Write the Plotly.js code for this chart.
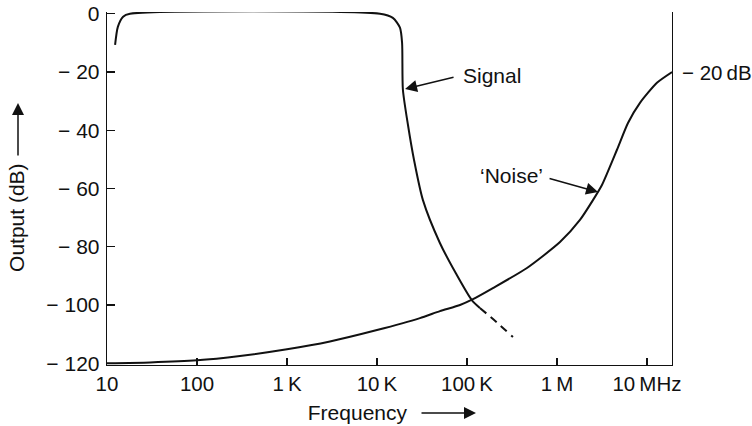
<!DOCTYPE html>
<html>
<head>
<meta charset="utf-8">
<script src="https://cdn.plot.ly/plotly-3.0.1.min.js"></script>
<style>html,body{margin:0;padding:0;background:#fff;}#chart{width:752px;height:426px;}</style>
</head>
<body>
<div id="chart"></div>
<script>
// Signal (solid part)
const signalFreq = [12.3, 13.2, 15.1, 18, 10800, 15000, 18000, 19000, 19400, 22100, 25800, 32400, 50000, 75500, 113000, 139000];
const signalDb   = [-10.7, -4.5, -1, 0, 0, -1.4, -4.8, -10, -26, -38.2, -50.2, -64, -78.7, -89.2, -98.3, -101];
// Signal extrapolation (dashed)
const signalExtFreq = [139000, 215000, 324000];
const signalExtDb   = [-101, -106, -111];
// Noise
const noiseFreq = [10, 30, 100, 300, 1000, 3000, 10000, 30000, 50000, 83600, 116600, 194000, 464000, 1080000, 1800000, 2510000, 3160000, 4640000, 6150000, 8360000, 12900000, 19000000];
const noiseDb   = [-120, -119.7, -119, -117.5, -115.2, -112.5, -108.6, -104.5, -102.1, -100, -98.0, -94.2, -87.3, -78.4, -70.8, -64, -58.8, -46.7, -37.5, -30.6, -23.7, -20];
// Ticks
const xTickVals = [10, 100, 1000, 10000, 100000, 1000000, 10000000];
const xTickText = ['10', '100', '1\u2009K', '10\u2009K', '100\u2009K', '1\u2009M', '10\u2009MHz'];
const yTickVals = [0, -20, -40, -60, -80, -100, -120];
const yTickText = ['0', '\u2212 20', '\u2212 40', '\u2212 60', '\u2212 80', '\u2212 100', '\u2212 120'];

const FONT = 'Liberation Sans, Arial, Helvetica, sans-serif';
const INK = '#111';

const traces = [
  {x: signalFreq, y: signalDb, mode: 'lines', line: {color: INK, width: 2, shape: 'spline', smoothing: 0.7}, name: 'Signal'},
  {x: signalExtFreq, y: signalExtDb, mode: 'lines', line: {color: INK, width: 2, dash: '8px,6px', shape: 'spline'}, name: 'Signal (extrapolated)'},
  {x: noiseFreq, y: noiseDb, mode: 'lines', line: {color: INK, width: 2, shape: 'spline', smoothing: 0.6}, name: 'Noise'}
];

const nb = n => '\u00A0'.repeat(n) + '\u200B';

const layout = {
  width: 752, height: 426,
  margin: {l: 107, r: 80, t: 12, b: 61, pad: 0},
  paper_bgcolor: '#fff', plot_bgcolor: '#fff',
  showlegend: false,
  font: {family: FONT, color: INK, size: 20},
  xaxis: {
    type: 'log', range: [1, 7.278],
    tickvals: xTickVals, ticktext: xTickText,
    ticks: 'inside', ticklen: 7, tickwidth: 1.3, tickcolor: INK,
    showline: true, linecolor: INK, linewidth: 1.3, mirror: false,
    showgrid: false, zeroline: false,
    tickfont: {size: 20.5, family: FONT, color: INK},
    title: {text: 'Frequency' + nb(11), font: {size: 21, family: FONT, color: INK}, standoff: 11}
  },
  yaxis: {
    range: [-120.6, 0.6],
    tickvals: yTickVals, ticktext: yTickText,
    ticks: 'inside', ticklen: 8, tickwidth: 1.3, tickcolor: INK,
    showline: true, linecolor: INK, linewidth: 1.3, mirror: true,
    showgrid: false, zeroline: false,
    tickfont: {size: 21, family: FONT, color: INK},
    ticklabelstandoff: 2,
    title: {text: 'Output (dB)' + nb(10), font: {size: 21, family: FONT, color: INK}, standoff: 16}
  },
  annotations: [
    {xref: 'x', yref: 'y', x: Math.log10(20500), y: -25.8, ax: 50, ay: -12, text: '', showarrow: true,
     arrowhead: 2, arrowsize: 1.6, arrowwidth: 1.5, arrowcolor: INK},
    {xref: 'paper', yref: 'paper', x: (492 - 107) / 565, y: (365 - 75) / 353, xanchor: 'center', yanchor: 'middle',
     text: 'Signal', showarrow: false, font: {size: 21, family: FONT, color: INK}},
    {xref: 'x', yref: 'y', x: Math.log10(2860000), y: -61.2, ax: -50, ay: -14, text: '', showarrow: true,
     arrowhead: 2, arrowsize: 1.6, arrowwidth: 1.5, arrowcolor: INK},
    {xref: 'paper', yref: 'paper', x: (511 - 107) / 565, y: (365 - 175) / 353, xanchor: 'center', yanchor: 'middle',
     text: '\u2018Noise\u2019', showarrow: false, font: {size: 21, family: FONT, color: INK}},
    {xref: 'paper', yref: 'y', x: 1, y: -20, xanchor: 'left', yanchor: 'middle', xshift: 8,
     text: '\u2212 20\u2009dB', showarrow: false, font: {size: 20.5, family: FONT, color: INK}},
    // axis-title arrows
    {xref: 'paper', yref: 'paper', x: (476 - 107) / 565, y: (365 - 413) / 353, ax: -56, ay: 0, text: '', showarrow: true,
     arrowhead: 2, arrowsize: 1.6, arrowwidth: 1.5, arrowcolor: INK},
    {xref: 'paper', yref: 'paper', x: (18 - 107) / 565, y: (365 - 103) / 353, ax: 0, ay: 54, text: '', showarrow: true,
     arrowhead: 2, arrowsize: 1.6, arrowwidth: 1.5, arrowcolor: INK}
  ]
};

Plotly.newPlot('chart', traces, layout, {displayModeBar: false, staticPlot: true});
</script>
</body>
</html>
